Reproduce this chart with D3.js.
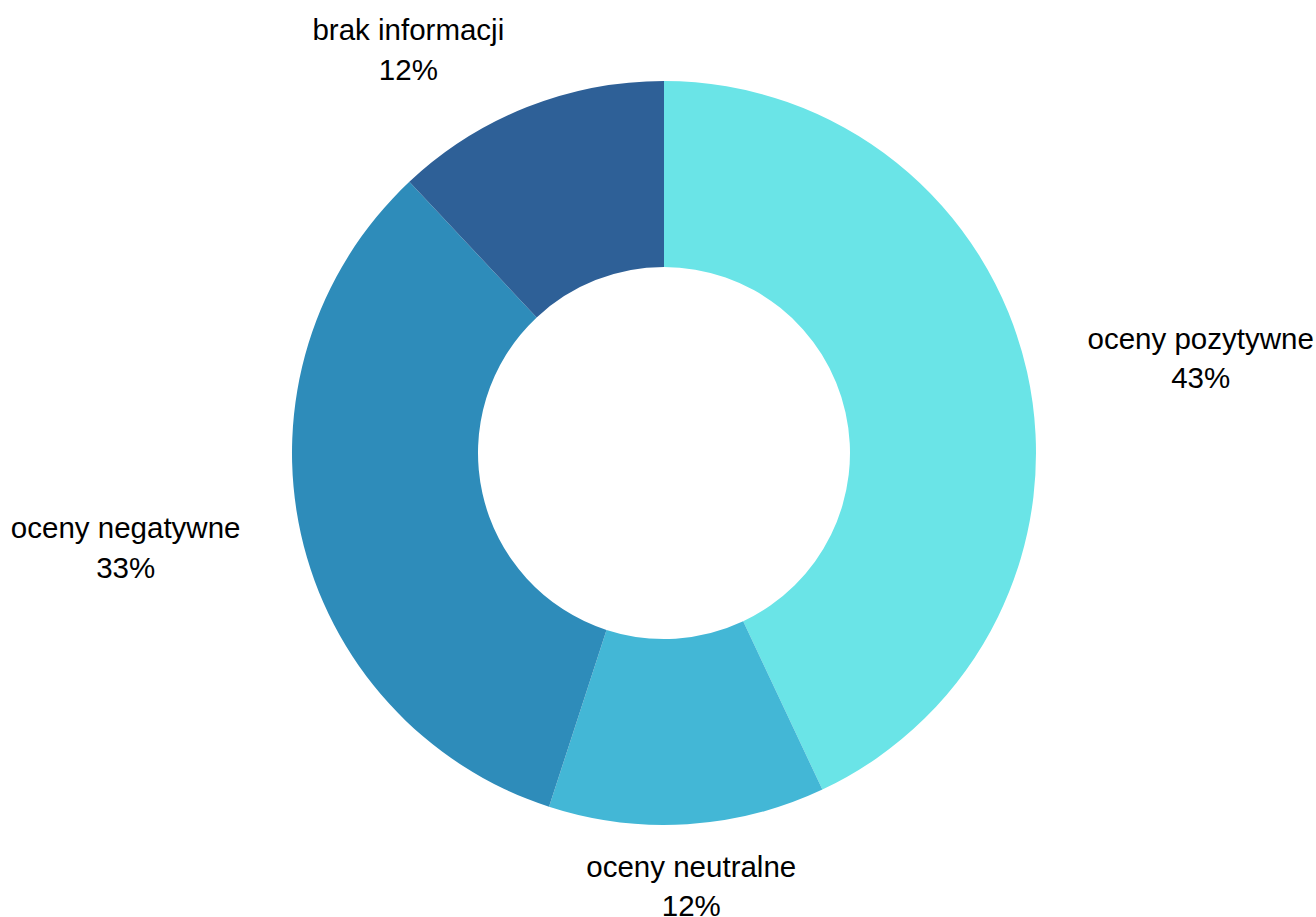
<!DOCTYPE html>
<html>
<head>
<meta charset="utf-8">
<script src="https://cdn.jsdelivr.net/npm/d3@7"></script>
<style>
  html, body { margin: 0; padding: 0; background: #fff; }
  svg text { font-family: "Liberation Sans", Arial, sans-serif; }
</style>
</head>
<body>
<script>
// chart data
const categories = ['oceny pozytywne', 'oceny neutralne', 'oceny negatywne', 'brak informacji'];
const values = [43, 12, 33, 12];
const percentLabels = ['43%', '12%', '33%', '12%'];
const colors = ['#6ae4e7', '#43b7d6', '#2e8cba', '#2e6097'];

const width = 1316, height = 917;
const cx = 664, cy = 453;
const outerR = 372, innerR = 186, labelR = 434;
const fontSize = 29.5, lineGap = 39.5;

const svg = d3.select('body').append('svg')
    .attr('width', width)
    .attr('height', height);

const pie = d3.pie().sort(null).value(d => d.value);
const arc = d3.arc().innerRadius(innerR).outerRadius(outerR);

const data = categories.map((c, i) => ({ name: c, value: values[i], pct: percentLabels[i], color: colors[i] }));
const arcs = pie(data);

const g = svg.append('g').attr('transform', 'translate(' + cx + ',' + cy + ')');

g.selectAll('path')
    .data(arcs)
    .enter()
    .append('path')
    .attr('d', arc)
    .attr('fill', d => d.data.color);

// labels: anchor on a circle outside the ring at the mid angle
arcs.forEach(d => {
    let mid = (d.startAngle + d.endAngle) / 2;
    let s = Math.sin(mid), c = Math.cos(mid);
    let ax = labelR * s, ay = -labelR * c;

    let t = g.append('text')
        .attr('font-size', fontSize)
        .attr('fill', '#000')
        .attr('text-anchor', 'middle');
    t.append('tspan').attr('x', 0).text(d.data.name);
    t.append('tspan').attr('x', 0).attr('dy', lineGap).text(d.data.pct);

    let w = t.node().getBBox().width;
    let x;
    if (Math.abs(s) < 0.2) x = ax;
    else if (s > 0) x = ax + w / 2;
    else x = ax - w / 2;

    t.selectAll('tspan')
        .attr('x', x)
        .attr('y', (p, i) => ay - lineGap / 2 + i * lineGap)
        .attr('dy', '0.35em');
});
</script>
</body>
</html>
